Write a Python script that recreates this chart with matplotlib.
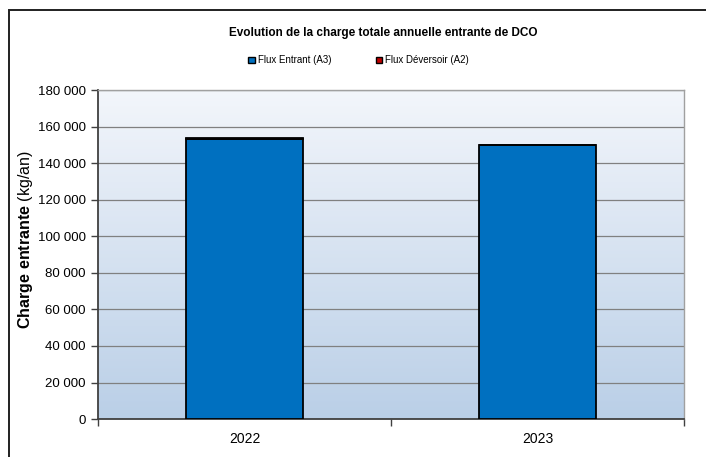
import numpy as np
import matplotlib
matplotlib.use('Agg')
import matplotlib.pyplot as plt
from matplotlib.colors import LinearSegmentedColormap
from matplotlib.patches import Rectangle
from matplotlib.ticker import FuncFormatter

plt.rcParams['font.family'] = ['Liberation Sans', 'DejaVu Sans']
plt.rcParams['mathtext.fontset'] = 'custom'
plt.rcParams['mathtext.bf'] = 'Liberation Sans:bold'
plt.rcParams['mathtext.rm'] = 'Liberation Sans'

# données
annees = ['2022', '2023']
flux_entrant = [153200, 149900]   # Flux Entrant (A3)
flux_deversoir = [600, 150]       # Flux Déversoir (A2)
titre = "Evolution de la charge totale annuelle entrante de DCO"
noms_series = ['Flux Entrant (A3)', 'Flux Déversoir (A2)']

fig = plt.figure(figsize=(7.06, 4.57), dpi=100)
ax = fig.add_axes([0.139, 0.083, 0.830, 0.720])

# fond dégradé (clair en haut, bleuté en bas)
cmap = LinearSegmentedColormap.from_list('fond', ['#f3f6fb', '#bacfe7'])
grad = np.linspace(0, 1, 256).reshape(-1, 1)
ax.imshow(grad, aspect='auto', cmap=cmap, extent=[-0.5, 1.5, 0, 180000],
          origin='upper', zorder=0, interpolation='bilinear')

x = np.arange(len(annees))
ax.bar(x, flux_entrant, width=0.4, color='#0070c0', edgecolor='black',
       linewidth=1.3, label=noms_series[0], zorder=3)
ax.bar(x, flux_deversoir, width=0.4, bottom=flux_entrant, color='#c00000',
       edgecolor='black', linewidth=1.3, label=noms_series[1], zorder=3)

ax.set_xlim(-0.5, 1.5)
ax.set_ylim(0, 180000)
ax.set_yticks(np.arange(0, 180001, 20000))
ax.yaxis.set_major_formatter(FuncFormatter(lambda v, p: f"{int(v):,}".replace(',', ' ')))
ax.tick_params(axis='y', labelsize=9.5, length=5, width=1, color='#404040', pad=4)
ax.grid(axis='y', color='#808080', linewidth=0.9, zorder=1)

ax.set_xticks(x)
ax.set_xticklabels(annees, fontsize=10)
ax.set_xticks([-0.5, 0.5, 1.5], minor=True)
ax.tick_params(axis='x', which='major', length=0, pad=9)
ax.tick_params(axis='x', which='minor', length=5, width=1, color='#404040')

for s in ['left', 'bottom']:
    ax.spines[s].set_color('#404040')
    ax.spines[s].set_linewidth(1.3)
for s in ['top', 'right']:
    ax.spines[s].set_color('#a0a0a0')
    ax.spines[s].set_linewidth(1)

fig.text(0.036, 0.475, r"$\bf{Charge\ entrante}$ (kg/an)", rotation=90,
         ha='center', va='center', fontsize=11.5)

fig.suptitle(titre, x=0.543, y=0.942, fontsize=8.5, fontweight='bold')

leg = fig.legend(loc='center', bbox_to_anchor=(0.508, 0.868), ncol=2, frameon=False,
                 fontsize=7, handlelength=0.65, handleheight=0.65, handletextpad=0.3,
                 columnspacing=4.6)
for h in leg.legend_handles:
    h.set_linewidth(1)

# cadre extérieur
fig.patches.append(Rectangle((0.013, -0.1), 1.2, 1.078, transform=fig.transFigure,
                             fill=False, edgecolor='#202020', linewidth=1.4))

fig.savefig('out.png', dpi=100)
